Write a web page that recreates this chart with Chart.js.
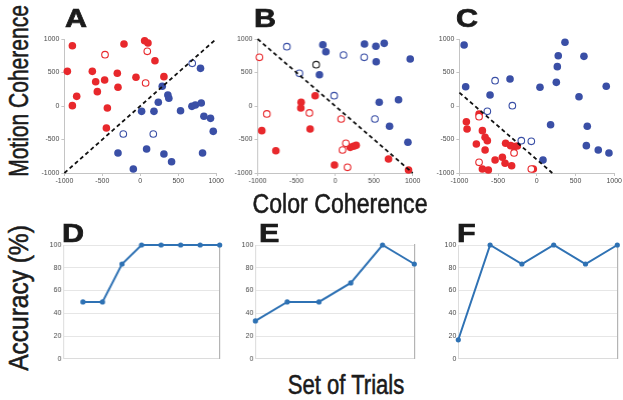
<!DOCTYPE html>
<html>
<head>
<meta charset="utf-8">
<script src="https://cdn.jsdelivr.net/npm/chart.js@4.4.1/dist/chart.umd.min.js"></script>
<style>
    body { margin: 0; background: #fff; }
    #fig { position: relative; width: 623px; height: 400px; overflow: hidden; font-family: "Liberation Sans", Arial, sans-serif; }
    .box { position: absolute; }
    .lbl { position: absolute; white-space: nowrap; color: #1b1b1b; line-height: 1; }
    .panel { font-weight: bold; font-size: 25px; transform: scaleX(1.22); transform-origin: left top; -webkit-text-stroke: 0.7px #1b1b1b; }
    .title { font-size: 27px; -webkit-text-stroke: 0.55px #1b1b1b; }
</style>
</head>
<body>
<div id="fig">
    <div class="box" style="left:38px;top:30px;width:187px;height:157px"><canvas id="chartA"></canvas></div>
    <div class="box" style="left:231px;top:30px;width:189.5px;height:157px"><canvas id="chartB"></canvas></div>
    <div class="box" style="left:432.6px;top:30px;width:190px;height:157px"><canvas id="chartC"></canvas></div>

    <div class="box" style="left:40px;top:238px;width:184.7px;height:127px"><canvas id="chartD"></canvas></div>
    <div class="box" style="left:232.4px;top:238px;width:187.3px;height:127px"><canvas id="chartE"></canvas></div>
    <div class="box" style="left:434.7px;top:238px;width:188.3px;height:127px"><canvas id="chartF"></canvas></div>

    <div class="lbl panel" style="left:65px;top:6px">A</div>
    <div class="lbl panel" style="left:254px;top:6px">B</div>
    <div class="lbl panel" style="left:456px;top:6px">C</div>
    <div class="lbl panel" style="left:62px;top:221px">D</div>
    <div class="lbl panel" style="left:259px;top:221px">E</div>
    <div class="lbl panel" style="left:457px;top:221px">F</div>

    <div class="lbl title" id="motionTitle">Motion Coherence</div>
    <div class="lbl title" id="colorTitle">Color Coherence</div>
    <div class="lbl title" id="accTitle">Accuracy (%)</div>
    <div class="lbl title" id="trialsTitle">Set of Trials</div>
</div>
<script>
// scatter panels: [color coherence, motion coherence]
const redFilledA = [[-895, 900], [-215, 925], [57, 975], [101, 940], [193, 676], [-961, 517], [-632, 517], [-588, 363], [-470, 388], [-566, 214], [-303, 488], [-294, 279], [-57, 428], [311, 438], [-838, 144], [-895, 5], [-434, -30], [-447, -328]];
const redOpenA = [[-465, 766], [92, 816], [70, 343]];
const blueFilledA = [[793, 562], [289, 294], [363, 165], [376, 115], [237, 55], [17, -80], [180, -80], [530, -70], [680, -5], [725, 15], [803, 45], [838, -154], [925, -184], [961, -378], [-294, -701], [83, -642], [311, -716], [412, -831], [820, -701], [-92, -940]];
const blueOpenA = [[-224, -418], [171, -418], [684, 637]];
const lineA = [[-1000, -1000], [1000, 1000]];

const redFilledB = [[-258, 154], [-439, 55], [-443, -30], [-946, -368], [-323, -343], [-765, -667], [194, -617], [236, -601], [271, -587], [-9, -881], [688, -791], [946, -955]];
const redOpenB = [[-977, 726], [-881, -119], [-332, -104], [77, -194], [138, -557], [94, -657], [159, -915]];
const blueFilledB = [[-159, 915], [-120, 810], [-203, 467], [378, 925], [525, 891], [632, 935], [529, 661], [968, 701], [568, 55], [817, 94], [701, -303], [938, -542]];
const blueOpenB = [[-623, 885], [107, 761], [374, 726], [-461, 488], [-13, 154], [512, -194]];
const blackOpenB = [[-245, 617]];
const lineB = [[-1000, 1000], [1000, -1000]];

const redFilledC = [[-910, -234], [-901, -343], [-746, -119], [-703, -368], [-668, -467], [-639, -517], [-781, -567], [-668, -657], [-539, -806], [-445, -766], [-410, -855], [-325, -891], [-703, -940], [-626, -955], [-403, -557], [-338, -592], [-294, -607], [-252, -597], [-45, -940]];
const redOpenC = [[-746, -160], [-294, -701], [-746, -840], [-71, -940]];
const blueFilledC = [[-939, 910], [-919, 288], [-604, 164], [-346, 403], [41, 279], [364, 951], [277, 751], [265, 587], [252, 353], [609, 741], [545, 139], [897, 294], [178, -279], [652, -303], [640, -592], [794, -657], [932, -701], [80, -806]];
const blueOpenC = [[-539, 378], [-316, 5], [-639, -80], [-200, -517], [-71, -527]];
const lineC = [[-1000, 200], [200, -1000]];

// accuracy panels
const trialsD = ['1', '2', '3', '4', '5', '6', '7', '8', '9'];
const accuracyD = [null, 50, 50, 83.3, 100, 100, 100, 100, 100];
const trialsE = ['1', '2', '3', '4', '5', '6'];
const accuracyE = [33.3, 50, 50, 66.7, 100, 83.3];
const trialsF = ['1', '2', '3', '4', '5', '6'];
const accuracyF = [16.7, 100, 83.3, 100, 83.3, 100];

const RED = '#e8282c';
const BLUE = '#3a4fa6';
const LINE_BLUE = '#2f72b4';
const TICK_COLOR = '#4a4a4a';

const toPoints = arr => arr.map(p => ({ x: p[0], y: p[1] }));

const circles = (arr, color, filled) => ({
    data: toPoints(arr),
    pointRadius: filled ? 3.8 : 3.3,
    pointHoverRadius: filled ? 3.8 : 3.3,
    pointBackgroundColor: filled ? color : '#fff',
    pointBorderColor: color,
    pointBorderWidth: filled ? 0 : 1.1,
    clip: false
});

const dashed = arr => ({
    data: toPoints(arr),
    showLine: true,
    borderColor: '#111',
    borderWidth: 1.8,
    borderDash: [4, 3],
    pointRadius: 0,
    clip: false
});

const axisTicks = { font: { size: 7, family: 'Liberation Sans' }, color: TICK_COLOR, stepSize: 500, callback: v => String(v) };

const scatterChart = (id, datasets, yWidth, padRight) => new Chart(document.getElementById(id), {
    type: 'scatter',
    data: { datasets },
    options: {
        animation: false,
        responsive: true,
        maintainAspectRatio: false,
        layout: { padding: { top: 9, right: padRight, bottom: 0, left: 0 } },
        plugins: { legend: { display: false }, tooltip: { enabled: false } },
        scales: {
            x: {
                min: -1000, max: 1000,
                ticks: { ...axisTicks, padding: 1, maxRotation: 0 },
                grid: { drawOnChartArea: false, tickLength: 3, color: '#c4c4c4' },
                border: { color: '#c4c4c4' },
                afterFit: s => { s.height = 14; }
            },
            y: {
                min: -1000, max: 1000,
                ticks: { ...axisTicks, padding: 2 },
                grid: { drawOnChartArea: false, tickLength: 3, color: '#c4c4c4' },
                border: { color: '#c4c4c4' },
                afterFit: s => { s.width = yWidth; }
            }
        }
    }
});

const lineChart = (id, labels, values, yWidth, padRight) => new Chart(document.getElementById(id), {
    type: 'line',
    data: {
        labels,
        datasets: [{
            data: values,
            borderColor: LINE_BLUE,
            backgroundColor: LINE_BLUE,
            borderWidth: 2,
            pointRadius: 1.6,
            tension: 0,
            clip: false
        }]
    },
    options: {
        animation: false,
        responsive: true,
        maintainAspectRatio: false,
        layout: { padding: { top: 7, right: padRight, bottom: 2, left: 0 } },
        plugins: { legend: { display: false }, tooltip: { enabled: false } },
        scales: {
            x: {
                ticks: { display: false },
                grid: { display: false },
                border: { color: '#dcdcdc' },
                afterFit: s => { s.height = 0; }
            },
            y: {
                min: 0, max: 100,
                ticks: { stepSize: 20, font: { size: 7, family: 'Liberation Sans' }, color: TICK_COLOR, padding: 2 },
                grid: { color: '#e6e6e6', drawTicks: false },
                border: { color: '#dcdcdc' },
                afterFit: s => { s.width = yWidth; }
            },
            yr: {
                position: 'right',
                min: 0, max: 100,
                ticks: { display: false },
                grid: { display: false },
                border: { color: '#b4b4b4', width: 1.2 },
                afterFit: s => { s.width = 0; }
            }
        }
    }
});

scatterChart('chartA', [
    dashed(lineA),
    circles(blueOpenA, BLUE, false),
    circles(redOpenA, RED, false),
    circles(blueFilledA, BLUE, true),
    circles(redFilledA, RED, true)
], 26.4, 8);

scatterChart('chartB', [
    dashed(lineB),
    circles(blackOpenB, '#222', false),
    circles(blueOpenB, BLUE, false),
    circles(redOpenB, RED, false),
    circles(blueFilledB, BLUE, true),
    circles(redFilledB, RED, true)
], 26.5, 7.5);

scatterChart('chartC', [
    dashed(lineC),
    circles(blueOpenC, BLUE, false),
    circles(redOpenC, RED, false),
    circles(blueFilledC, BLUE, true),
    circles(redFilledC, RED, true)
], 26.4, 8);

lineChart('chartD', trialsD, accuracyD, 23.3, 2);
lineChart('chartE', trialsE, accuracyE, 23.3, 2);
lineChart('chartF', trialsF, accuracyF, 23.3, 0.5);

// axis titles squeezed to the widths seen in the figure
const placeText = (id, cx, cy, length, vertical) => {
    const el = document.getElementById(id);
    const s = length / el.offsetWidth;
    el.style.left = cx + 'px';
    el.style.top = cy + 'px';
    el.style.transform = `translate(-50%, -50%) ${vertical ? 'rotate(-90deg) ' : ''}scaleX(${s})`;
};

placeText('motionTitle', 19, 91, 172, true);
placeText('colorTitle', 340, 204, 175, false);
placeText('accTitle', 19, 298, 146, true);
placeText('trialsTitle', 346, 385, 117, false);
</script>
</body>
</html>
